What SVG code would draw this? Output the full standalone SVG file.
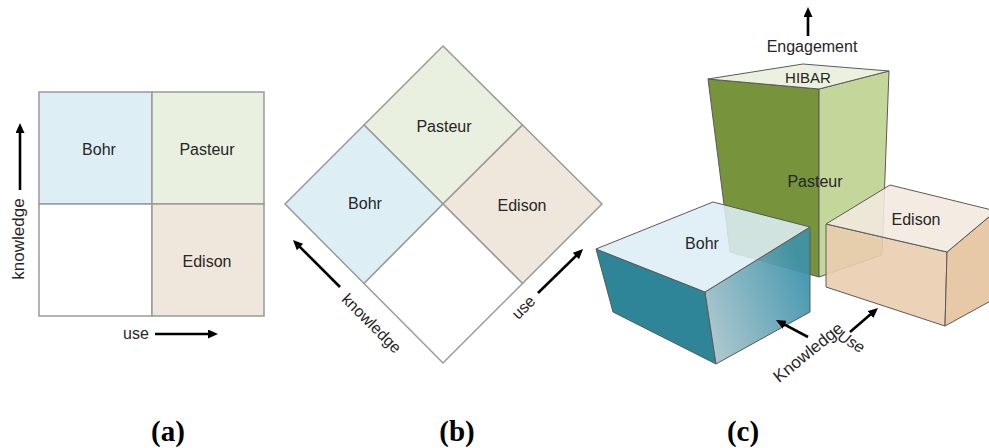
<svg xmlns="http://www.w3.org/2000/svg" width="989" height="448" viewBox="0 0 989 448">
<defs>
<style>
.lbl{font-family:"Liberation Sans",Arial,sans-serif;font-size:16px;fill:#262626;text-anchor:middle}
.cap{font-family:"Liberation Serif","Times New Roman",serif;font-size:29px;font-weight:bold;fill:#000;text-anchor:middle}
.q{stroke:#9a9a9a;stroke-width:1.5}
.f{stroke:#5a5a5a;stroke-width:1;stroke-linejoin:round}
.arr{stroke:#000;stroke-width:2.6;fill:none;marker-end:url(#ah)}
</style>
<marker id="ah" viewBox="0 0 10 9" refX="6" refY="4.5" markerWidth="10" markerHeight="9" markerUnits="userSpaceOnUse" orient="auto">
<path d="M0,0 L10,4.5 L0,9 z" fill="#000"/>
</marker>
<linearGradient id="bohrR" gradientUnits="userSpaceOnUse" x1="705" y1="330" x2="810" y2="290">
<stop offset="0" stop-color="#a6c3ca"/>
<stop offset="1" stop-color="#3d92aa"/>
</linearGradient>
</defs>

<!-- Panel (a) -->
<g id="a-bohr"><rect class="q" x="39" y="92" width="113" height="112" fill="#DDEEF5"/><text class="lbl" x="99" y="155">Bohr</text></g>
<g id="a-pasteur"><rect class="q" x="152" y="92" width="112" height="112" fill="#E9F0DF"/><text class="lbl" x="207" y="155">Pasteur</text></g>
<g id="a-empty"><rect class="q" x="39" y="204" width="113" height="112" fill="#FFFFFF"/></g>
<g id="a-edison"><rect class="q" x="152" y="204" width="112" height="112" fill="#F0E7DC"/><text class="lbl" x="207" y="267">Edison</text></g>
<g id="a-axes">
<text class="lbl" transform="translate(18,239) rotate(-90)" y="6" style="font-size:17px">knowledge</text>
<text class="lbl" x="136" y="339">use</text>
</g>

<!-- Panel (b) -->
<g id="b-pasteur"><polygon class="q" points="443,46 522.5,125 443,204 364,125" fill="#E9F0DF"/><text class="lbl" x="444" y="132">Pasteur</text></g>
<g id="b-bohr"><polygon class="q" points="364,125 443,204 364,283.5 285,204" fill="#DDEEF5"/><text class="lbl" x="365" y="209">Bohr</text></g>
<g id="b-edison"><polygon class="q" points="522.5,125 602,204 522.5,283.5 443,204" fill="#F0E7DC"/><text class="lbl" x="522" y="211">Edison</text></g>
<g id="b-empty"><polygon class="q" points="443,204 522.5,283.5 443,363 364,283.5" fill="#FFFFFF"/></g>
<g id="b-axes">
<text class="lbl" transform="translate(372,323) rotate(45)" y="6">knowledge</text>
<text class="lbl" transform="translate(523,307) rotate(-45)" y="6">use</text>
</g>

<!-- Panel (c) -->
<g id="c-pasteur">
<polygon class="f" points="708,79 819,89 819,277 730,252" fill="#77933C"/>
<polygon class="f" points="819,89 889,71 882,255 819,277" fill="#C4D79B"/>
<polygon class="f" points="708,79 803,64 889,71 819,89" fill="#EBF1DE"/>
<text class="lbl" x="808" y="83" style="font-size:15px">HIBAR</text>
<text class="lbl" x="815" y="187">Pasteur</text>
</g>
<g id="c-bohr">
<polygon class="f" points="596,249 705,292 716,364 613,312" fill="#2E8598"/>
<polygon class="f" points="705,292 810,227 810,312 716,364" fill="url(#bohrR)" fill-opacity="0.92"/>
<polygon class="f" points="596,249 713,202 810,227 705,292" fill="#DDEEF5" fill-opacity="0.88"/>
<text class="lbl" x="702" y="249">Bohr</text>
</g>
<g id="c-edison">
<polygon class="f" points="826,224 947,252 945,326 826,287" fill="#EACDAF" fill-opacity="0.9"/>
<polygon class="f" points="947,252 996,211 996,298 945,326" fill="#E7C9A8"/>
<polygon class="f" points="826,224 890,185 996,211 947,252" fill="#F2E9DF" fill-opacity="0.88"/>
<text class="lbl" x="916" y="225">Edison</text>
</g>
<g id="c-axes">
<text class="lbl" x="812" y="52">Engagement</text>
<text class="lbl" transform="translate(808,352) rotate(-39)" y="6" style="font-size:17px">Knowledge</text>
<text class="lbl" transform="translate(851,342) rotate(30)" y="5" style="font-style:italic">Use</text>
</g>

<!-- Connectors (axis arrows) -->
<g id="connectors">
<line class="arr" x1="20" y1="190" x2="20" y2="127"/>
<line class="arr" x1="155" y1="334" x2="214" y2="334"/>
<line class="arr" x1="340" y1="287" x2="295.8" y2="242.8"/>
<line class="arr" x1="538" y1="293" x2="580.2" y2="251.8"/>
<line class="arr" x1="808" y1="36" x2="808" y2="11"/>
<line class="arr" x1="808" y1="337" x2="779.5" y2="321.9"/>
<line class="arr" x1="850" y1="332" x2="875" y2="310.6"/>
</g>

<!-- Captions -->
<g id="captions">
<text class="cap" x="168" y="441">(a)</text>
<text class="cap" x="457" y="441">(b)</text>
<text class="cap" x="743" y="441">(c)</text>
</g>
</svg>
